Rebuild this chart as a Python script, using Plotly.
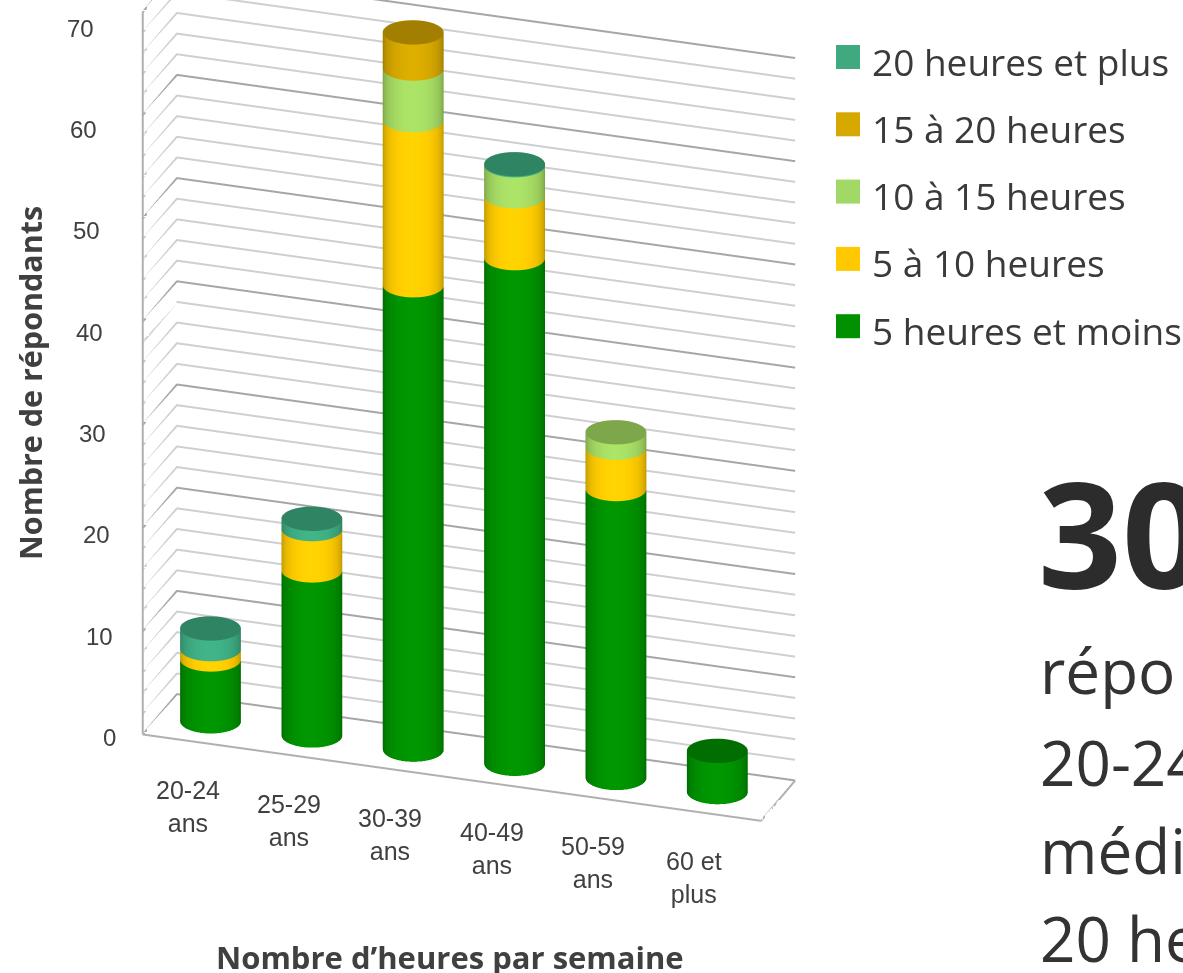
import numpy as np
import plotly.graph_objects as go

categories = ["20-24<br>ans", "25-29<br>ans", "30-39<br>ans", "40-49<br>ans", "50-59<br>ans", "60 et<br>plus"]
h_5_moins = [6, 16, 45, 49, 28, 4]
h_5_10 = [1, 4, 16, 6, 4, 0]
h_10_15 = [0, 0, 5, 3, 1.5, 0]
h_15_20 = [0, 0, 3.5, 0, 0, 0]
h_20_plus = [2, 1, 0, 0.1, 0, 0]
series_names = ["5 heures et moins", "5 à 10 heures", "10 à 15 heures", "15 à 20 heures", "20 heures et plus"]
series_values = [h_5_moins, h_5_10, h_10_15, h_15_20, h_20_plus]
colors = [(0, 146, 0), (255, 204, 0), (166, 220, 100), (214, 168, 0), (63, 174, 132)]
legend_colors = ["#3FAA80", "#D6A800", "#A2D966", "#FFC800", "#009000"]
z_levels = list(range(0, 71, 2))
z_labels = list(range(0, 71, 10))

R = 0.285
N = 48
XMIN, XMAX, YMIN, YMAX = -0.5, 5.6, 0.0, 1.0
VIEW = np.deg2rad(-72)


def css(c, f):
    return "rgb(%d,%d,%d)" % tuple(min(255, int(v * f)) for v in c)


def cylinder(cx, z0, z1, col, cap, name):
    th = np.linspace(0, 2 * np.pi, N, endpoint=False)
    xs = cx + R * np.cos(th)
    ys = 0.5 + R * np.sin(th)
    shade = 0.64 + 0.40 * np.clip(np.cos(th - VIEW), 0, 1) ** 0.7
    x = np.r_[xs, xs]
    y = np.r_[ys, ys]
    z = np.r_[np.full(N, z0), np.full(N, z1)]
    vc = [css(col, s) for s in shade] * 2
    i, j, k = [], [], []
    for a in range(N):
        b = (a + 1) % N
        i += [a, b]
        j += [b, b + N]
        k += [a + N, a + N]
    if cap:
        x = np.r_[x, xs, cx]
        y = np.r_[y, ys, 0.5]
        z = np.r_[z, np.full(N + 1, z1)]
        vc += [css(col, 0.76)] * (N + 1)
        c0 = 2 * N
        for a in range(N):
            i.append(c0 + a)
            j.append(c0 + (a + 1) % N)
            k.append(c0 + N)
    return go.Mesh3d(x=x, y=y, z=z, i=i, j=j, k=k, vertexcolor=vc, flatshading=False,
                     lighting=dict(ambient=1, diffuse=0, specular=0, roughness=1, fresnel=0),
                     hoverinfo="skip", showscale=False, name=name)


traces = []
for lvl in z_levels:
    major = lvl % 10 == 0
    traces.append(go.Scatter3d(x=[XMIN, XMIN, XMAX], y=[YMIN, YMAX, YMAX], z=[lvl, lvl, lvl], mode="lines",
                               line=dict(color="#a6a6a6" if major else "#cfcfcf", width=4), hoverinfo="skip", showlegend=False))
traces.append(go.Scatter3d(x=[XMIN, XMAX, XMAX], y=[YMIN, YMIN, YMAX], z=[0, 0, 0], mode="lines",
                           line=dict(color="#b0b0b0", width=4), hoverinfo="skip", showlegend=False))
traces.append(go.Scatter3d(x=[XMIN, XMIN], y=[YMIN, YMIN], z=[0, 70], mode="lines",
                           line=dict(color="#b0b0b0", width=4), hoverinfo="skip", showlegend=False))

for c in range(len(categories)):
    base = 0
    stack = [(s, series_values[s][c]) for s in range(len(series_values)) if series_values[s][c] > 0]
    for n, (s, v) in enumerate(stack):
        traces.append(cylinder(c, base, base + v, colors[s], n == len(stack) - 1, series_names[s]))
        base += v

fig = go.Figure(traces)

noaxis = dict(showbackground=False, showspikes=False, zeroline=False, showgrid=False, showline=False, title="")
scene_labels = [dict(x=c, y=0.5, z=0, text=t, showarrow=False, xshift=-23, yshift=-85, yanchor="middle",
                     font=dict(family="Liberation Sans", size=25, color="#404040"))
                for c, t in enumerate(categories)]
scene_labels += [dict(x=XMIN, y=YMIN, z=v, text=str(v), showarrow=False, xanchor="right", yanchor="middle",
                      xshift=-25 - 0.31 * v, yshift=-3 - 0.19 * v, font=dict(family="Liberation Sans", size=24, color="#404040"))
                 for v in z_labels]
fig.update_layout(
    width=1183, height=973, margin=dict(l=0, r=0, t=0, b=0), paper_bgcolor="white", showlegend=False,
    scene=dict(
        domain=dict(x=[0, 938 / 1183], y=[0, 1]),
        aspectmode="manual", aspectratio=dict(x=1.344, y=0.216, z=1.625),
        xaxis=dict(noaxis, range=[XMIN, XMAX], showticklabels=False, ticks=""),
        yaxis=dict(noaxis, range=[YMIN, YMAX], showticklabels=False, ticks=""),
        zaxis=dict(noaxis, range=[0, 70], showticklabels=False, ticks=""),
        camera=dict(eye=dict(x=0.595, y=-1.73, z=0.813 - 0.203), center=dict(x=0, y=0, z=-0.203), up=dict(x=0, y=0, z=1),
                    projection=dict(type="orthographic")),
        annotations=scene_labels,
    ),
)

annotations = []
names_top = series_names[::-1]
for n, name in enumerate(names_top):
    yp = 61 + n * 67.3
    annotations.append(dict(x=870 / 1183, y=1 - yp / 973, xref="paper", yref="paper", xanchor="left", yanchor="middle",
                            text=name, showarrow=False, font=dict(family="Open Sans", size=37, color="#3a3a3a")))
    fig.add_shape(type="rect", xref="paper", yref="paper", x0=836 / 1183, x1=860 / 1183,
                  y0=1 - (yp - 16) / 973, y1=1 - (yp + 8) / 973, fillcolor=legend_colors[n], line_width=0)
annotations.append(dict(x=30 / 1183, y=1 - 383 / 973, xref="paper", yref="paper", xanchor="center", yanchor="middle", textangle=-90,
                        text="<b>Nombre de répondants</b>", showarrow=False, font=dict(family="Open Sans", size=30.5, color="#404040")))
annotations.append(dict(x=450 / 1183, y=1 - 957 / 973, xref="paper", yref="paper", xanchor="center", yanchor="middle",
                        text="<b>Nombre d’heures par semaine</b>", showarrow=False, font=dict(family="Open Sans", size=31, color="#404040")))
annotations.append(dict(x=1036 / 1183, y=1 - 532 / 973, xref="paper", yref="paper", xanchor="left", yanchor="middle", text="<b>30</b>",
                        showarrow=False, font=dict(family="Open Sans", size=147, color="#2c2c2c")))
for txt, yp in [("répo", 670), ("20-24", 762), ("médi", 850), ("20 he", 938)]:
    annotations.append(dict(x=1038 / 1183, y=1 - yp / 973, xref="paper", yref="paper", xanchor="left", yanchor="middle", text=txt,
                            showarrow=False, font=dict(family="Open Sans", size=62, color="#333333")))
fig.update_layout(annotations=annotations)
fig.write_html("out.html", config=dict(displayModeBar=False),
               post_script="document.body.style.margin='0';document.body.style.overflow='hidden';")
